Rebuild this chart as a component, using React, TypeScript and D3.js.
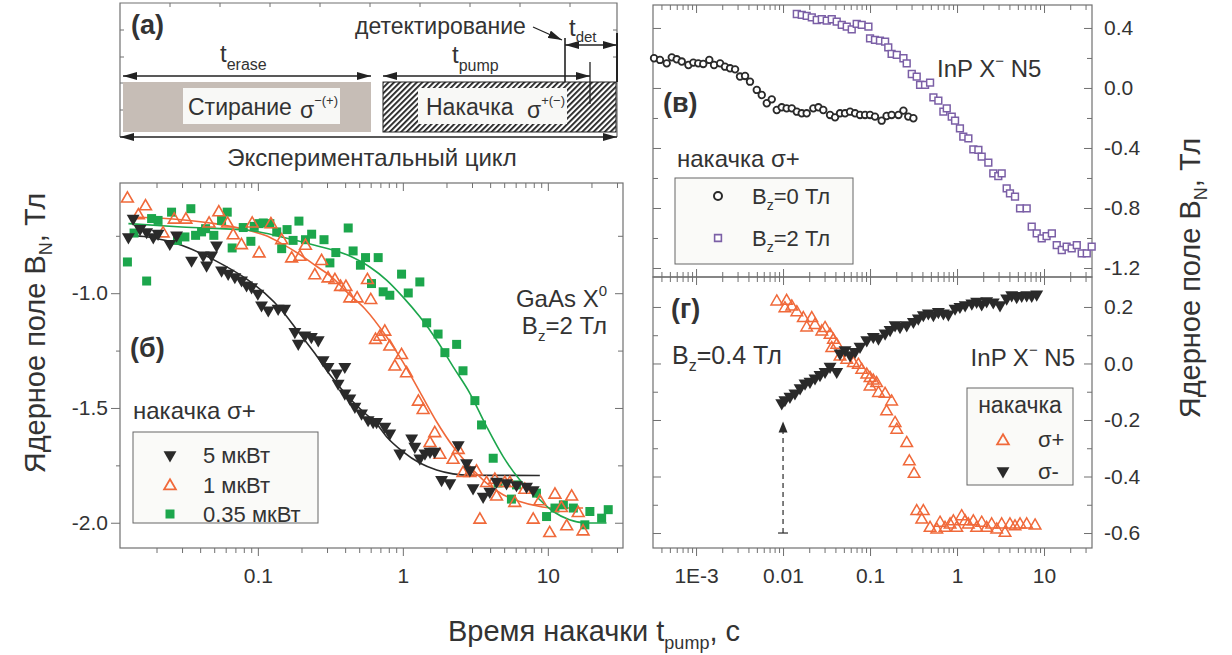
import * as d3 from "d3";
import { useRef, useEffect } from "react";

const FONT = "'Liberation Sans', Arial, sans-serif";
const INK = "#333";
const AXIS = "#707070";
const ORANGE = "#f0693a";
const GREEN = "#1ca64c";
const BLACK = "#2a2a2a";
const PURPLE = "#7b5fa6";

type Pt = [number, number];

// ---------- panel (б): GaAs X0, Bz = 2 T  [t_pump (s), B_N (T)] ----------
const gaas5uW: Pt[] = [
  [0.0128, -0.755], [0.0138, -0.675], [0.0154, -0.719], [0.0171, -0.733], [0.019, -0.755],
  [0.0205, -0.74], [0.0247, -0.784], [0.0275, -0.748], [0.0349, -0.857], [0.042, -0.835],
  [0.0443, -0.878], [0.048, -0.835], [0.0519, -0.791], [0.0562, -0.9], [0.0624, -0.914],
  [0.0694, -0.929], [0.0772, -0.943], [0.0836, -0.965], [0.0905, -0.973], [0.1, -1.001],
  [0.106, -1.052], [0.118, -1.074], [0.138, -1.067], [0.153, -1.067], [0.18, -1.168],
  [0.19, -1.219], [0.211, -1.183], [0.234, -1.19], [0.261, -1.204], [0.282, -1.291],
  [0.305, -1.32], [0.349, -1.349], [0.398, -1.32], [0.358, -1.393], [0.398, -1.436],
  [0.431, -1.458], [0.467, -1.494], [0.519, -1.523], [0.576, -1.552], [0.624, -1.56],
  [0.659, -1.56], [0.751, -1.581], [0.813, -1.61], [0.953, -1.697], [1.15, -1.632],
  [1.21, -1.668], [1.31, -1.719], [1.42, -1.697], [1.54, -1.69], [1.66, -1.69],
  [1.85, -1.813], [2.11, -1.827], [2.41, -1.661], [2.75, -1.74], [2.9, -1.77],
  [3.05, -1.849], [3.58, -1.886], [3.98, -1.864], [4.43, -1.82], [5.19, -1.827],
  [6.08, -1.835], [7.13, -1.842], [7.93, -1.857],
];
const gaas1uW: Pt[] = [
  [0.0126, -0.588], [0.0168, -0.622], [0.015, -0.661], [0.0222, -0.74], [0.0265, -0.68],
  [0.0319, -0.68], [0.0461, -0.697], [0.0538, -0.648], [0.0618, -0.697], [0.0676, -0.748],
  [0.0771, -0.791], [0.102, -0.827], [0.0914, -0.697], [0.123, -0.7], [0.146, -0.77],
  [0.171, -0.849], [0.195, -0.842], [0.213, -0.794], [0.247, -0.922], [0.275, -0.86],
  [0.305, -0.936], [0.34, -0.943], [0.372, -0.973], [0.405, -0.973], [0.431, -1.023],
  [0.484, -1.023], [0.57, -0.943], [0.601, -1.03], [0.648, -1.204], [0.694, -1.19],
  [0.751, -1.168], [0.813, -1.233], [0.881, -1.32], [0.98, -1.27], [1.06, -1.349],
  [1.28, -1.473], [1.38, -1.509], [1.66, -1.61], [1.54, -1.653], [1.8, -1.704],
  [2.22, -1.726], [2.41, -1.683], [2.6, -1.784], [2.9, -1.784], [3.22, -1.777],
  [3.4, -1.987], [3.78, -1.827], [4.31, -1.813], [4.43, -1.886], [5.05, -1.827],
  [5.47, -1.827], [5.92, -1.914], [6.94, -1.857], [7.93, -1.987], [8.81, -1.907],
  [10.3, -2.045], [11.2, -1.878], [12.4, -1.936], [13.5, -2.016], [14.6, -1.886],
  [16.2, -1.958], [17.5, -2.038],
];
const gaas035uW: Pt[] = [
  [0.0126, -0.864], [0.014, -0.738], [0.0171, -0.947], [0.0185, -0.675], [0.0205, -0.683],
  [0.0254, -0.647], [0.0279, -0.77], [0.0314, -0.755], [0.0345, -0.632], [0.0372, -0.748],
  [0.0409, -0.733], [0.0436, -0.719], [0.0497, -0.748], [0.0562, -0.683], [0.0615, -0.647],
  [0.0665, -0.803], [0.0793, -0.714], [0.0895, -0.774], [0.0944, -0.709], [0.1016, -0.697],
  [0.109, -0.694], [0.121, -0.697], [0.135, -0.733], [0.146, -0.806], [0.159, -0.723],
  [0.175, -0.77], [0.192, -0.686], [0.213, -0.767], [0.235, -0.743], [0.286, -0.767],
  [0.314, -0.868], [0.345, -0.823], [0.42, -0.716], [0.454, -0.816], [0.51, -0.878],
  [0.553, -0.845], [0.608, -0.958], [0.676, -0.845], [0.732, -0.994], [0.813, -1.009],
  [0.98, -0.917], [1.09, -0.999], [1.31, -0.951], [1.46, -1.129], [1.75, -1.178],
  [1.95, -1.259], [2.35, -1.223], [2.6, -1.338], [3.14, -1.468], [3.49, -1.574],
  [4.2, -1.719], [4.54, -1.827], [5.61, -1.897], [6.08, -1.835], [8.35, -1.871],
  [9.8, -1.973], [11.2, -1.936], [12.8, -1.922], [15.0, -1.936], [18.0, -2.009],
  [19.5, -1.951], [23.5, -1.98], [26.1, -1.943],
];
// fitted curves
const fit5uW: Pt[] = [
  [0.0124, -0.748], [0.0175, -0.755], [0.0298, -0.791], [0.0505, -0.857], [0.0857, -0.943],
  [0.112, -1.001], [0.146, -1.074], [0.19, -1.168], [0.247, -1.262], [0.322, -1.364],
  [0.42, -1.451], [0.547, -1.523], [0.651, -1.565], [0.772, -1.625], [1.0, -1.69],
  [1.31, -1.74], [1.71, -1.77], [2.22, -1.787], [2.9, -1.793], [8.81, -1.794],
];
const fit1uW: Pt[] = [
  [0.0142, -0.668], [0.0298, -0.68], [0.0505, -0.697], [0.0857, -0.726], [0.112, -0.748],
  [0.146, -0.784], [0.19, -0.827], [0.247, -0.878], [0.322, -0.929], [0.42, -1.001],
  [0.547, -1.068], [0.772, -1.19], [1.0, -1.299], [1.31, -1.43], [1.71, -1.56],
  [2.22, -1.668], [2.9, -1.755], [3.78, -1.827], [4.92, -1.878], [6.4, -1.907],
  [8.35, -1.926], [10.9, -1.936], [17.5, -1.936],
];
const fit035uW: Pt[] = [
  [0.0128, -0.697], [0.0298, -0.712], [0.0857, -0.726], [0.146, -0.755], [0.247, -0.791],
  [0.42, -0.835], [0.592, -0.886], [0.772, -0.943], [1.0, -1.016], [1.31, -1.103],
  [1.71, -1.204], [2.22, -1.32], [2.9, -1.436], [3.78, -1.581], [4.92, -1.712],
  [6.4, -1.813], [8.35, -1.886], [10.9, -1.951], [14.1, -1.987], [18.5, -2.001],
  [25.4, -2.001],
];

// ---------- panel (в): InP X- N5, sigma+ pumping ----------
const inpBz0: Pt[] = [
  [3.29e-4, 0.198], [3.85e-4, 0.187], [4.6e-4, 0.164], [5.26e-4, 0.204], [6.0e-4, 0.191],
  [6.85e-4, 0.176], [8.17e-4, 0.153], [9.3e-4, 0.169], [1.06e-3, 0.164], [1.21e-3, 0.16],
  [1.42e-3, 0.187], [1.61e-3, 0.153], [1.89e-3, 0.164], [2.15e-3, 0.142], [2.46e-3, 0.131],
  [2.81e-3, 0.124], [3.2e-3, 0.076], [3.66e-3, 0.08], [4.17e-3, 0.042], [4.99e-3, -0.013],
  [5.69e-3, -0.047], [6.5e-3, -0.102], [7.42e-3, -0.076], [8.47e-3, -0.147], [9.66e-3, -0.129],
  [0.011, -0.136], [0.0126, -0.136], [0.0144, -0.158], [0.0164, -0.169], [0.0187, -0.169],
  [0.0223, -0.136], [0.0255, -0.129], [0.029, -0.147], [0.0347, -0.18], [0.0396, -0.196],
  [0.0452, -0.169], [0.0516, -0.169], [0.0589, -0.158], [0.0673, -0.169], [0.0767, -0.18],
  [0.0877, -0.18], [0.1, -0.18], [0.114, -0.191], [0.136, -0.218], [0.155, -0.187],
  [0.177, -0.18], [0.212, -0.18], [0.242, -0.151], [0.275, -0.191], [0.315, -0.202],
];
const inpBz2: Pt[] = [
  [0.0144, 0.493], [0.0164, 0.487], [0.0187, 0.48], [0.0214, 0.471], [0.0244, 0.453],
  [0.0279, 0.458], [0.0318, 0.449], [0.0363, 0.458], [0.0414, 0.442], [0.0473, 0.42],
  [0.054, 0.409], [0.0616, 0.391], [0.0703, 0.427], [0.0803, 0.42], [0.0958, 0.409],
  [0.1, 0.331], [0.114, 0.32], [0.13, 0.316], [0.149, 0.309], [0.162, 0.271],
  [0.177, 0.227], [0.203, 0.22], [0.242, 0.198], [0.264, 0.164], [0.302, 0.093],
  [0.344, 0.076], [0.376, 0.02], [0.429, 0.02], [0.49, 0.036], [0.535, -0.062],
  [0.61, -0.084], [0.697, -0.158], [0.762, -0.136], [0.869, -0.191], [0.949, -0.218],
  [1.08, -0.269], [1.18, -0.324], [1.35, -0.336], [1.54, -0.409], [1.76, -0.413],
  [1.92, -0.458], [2.29, -0.498], [2.61, -0.569], [2.98, -0.587], [3.26, -0.569],
  [3.72, -0.669], [4.06, -0.702], [4.64, -0.724], [5.3, -0.802], [6.32, -0.802],
  [7.22, -0.924], [8.24, -0.969], [9.41, -1.002], [10.7, -0.987], [12.3, -0.969],
  [14.0, -1.047], [16.0, -1.08], [18.2, -1.058], [20.8, -1.069], [23.8, -1.047],
  [27.1, -1.102], [31.0, -1.102], [35.3, -1.058],
];

// ---------- panel (г): InP X- N5, Bz = 0.4 T ----------
const inpSigmaPlus: Pt[] = [
  [8.47e-3, 0.219], [0.011, 0.221], [0.0105, 0.195], [0.0126, 0.201], [0.0144, 0.181],
  [0.0171, 0.16], [0.0214, 0.16], [0.0187, 0.127], [0.0233, 0.136], [0.0279, 0.113],
  [0.0304, 0.125], [0.0347, 0.101], [0.0379, 0.083], [0.0414, 0.066], [0.0363, 0.054],
  [0.0452, 0.024], [0.054, 0.013], [0.0643, 0.001], [0.0734, -0.005], [0.0803, -0.023],
  [0.0917, -0.04], [0.1, -0.052], [0.109, -0.061], [0.119, -0.07], [0.1, -0.082],
  [0.125, -0.105], [0.149, -0.108], [0.177, -0.135], [0.155, -0.17], [0.194, -0.211],
  [0.203, -0.235], [0.264, -0.282], [0.283, -0.347], [0.321, -0.391], [0.344, -0.523],
  [0.41, -0.523], [0.393, -0.553], [0.49, -0.582], [0.585, -0.588], [0.638, -0.564],
  [0.728, -0.582], [0.832, -0.57], [0.908, -0.559], [0.993, -0.582], [1.13, -0.541],
  [1.24, -0.559], [1.35, -0.57], [1.54, -0.559], [1.68, -0.582], [1.92, -0.564],
  [2.19, -0.582], [2.5, -0.57], [2.86, -0.588], [3.26, -0.57], [3.56, -0.6],
  [4.06, -0.57], [4.64, -0.577], [5.3, -0.57], [6.32, -0.57], [7.89, -0.574],
];
const inpSigmaMinus: Pt[] = [
  [9.66e-3, -0.14], [0.0105, -0.129], [0.012, -0.117], [0.0137, -0.105], [0.0157, -0.087],
  [0.0179, -0.07], [0.0204, -0.064], [0.0233, -0.052], [0.0266, -0.04], [0.0304, -0.029],
  [0.0347, -0.011], [0.0414, -0.029], [0.0452, 0.036], [0.0516, 0.048], [0.0589, 0.03],
  [0.0673, 0.042], [0.0767, 0.06], [0.0917, 0.083], [0.109, 0.095], [0.125, 0.089],
  [0.149, 0.107], [0.17, 0.119], [0.194, 0.136], [0.221, 0.13], [0.264, 0.136],
  [0.315, 0.148], [0.359, 0.16], [0.41, 0.172], [0.468, 0.178], [0.535, 0.172],
  [0.61, 0.183], [0.697, 0.178], [0.795, 0.174], [0.949, 0.195], [1.08, 0.201],
  [1.24, 0.207], [1.48, 0.213], [1.68, 0.219], [1.92, 0.21], [2.19, 0.221],
  [2.61, 0.217], [3.12, 0.207], [3.72, 0.231], [4.25, 0.242], [4.85, 0.236],
  [5.54, 0.24], [6.32, 0.242], [7.22, 0.24], [8.24, 0.245],
];
// dashed arrow: start of sigma- pumping
const arrowT = 0.01;
const arrowB: [number, number] = [-0.6, -0.205];

// ---------- tick values / labels ----------
const xTicksB = [0.1, 1, 10];
const xLabelsB = ["0.1", "1", "10"];
const xTicksR = [0.001, 0.01, 0.1, 1, 10];
const xLabelsR = ["1E-3", "0.01", "0.1", "1", "10"];
const yTicksB = [-1.0, -1.5, -2.0];
const yMinorB = [-0.75, -1.25, -1.75];
const yLabelsB = ["-1.0", "-1.5", "-2.0"];
const yTicksV = [0.4, 0.0, -0.4, -0.8, -1.2];
const yMinorV = [0.2, -0.2, -0.6, -1.0];
const yLabelsV = ["0.4", "0.0", "-0.4", "-0.8", "-1.2"];
const yTicksG = [0.2, 0.0, -0.2, -0.4, -0.6];
const yMinorG = [0.1, -0.1, -0.3, -0.5];
const yLabelsG = ["0.2", "0.0", "-0.2", "-0.4", "-0.6"];

// ---------- layout ----------
const pB = { left: 120, right: 623, top: 183, bottom: 548 };
const pV = { left: 653, right: 1092, top: 5, bottom: 277 };
const pG = { left: 653, right: 1092, top: 277, bottom: 548 };

const xB = d3.scaleLog().domain([0.0112, 33]).range([pB.left, pB.right]);
const yB = d3.scaleLinear().domain([-2.11, -0.52]).range([pB.bottom, pB.top]);
const xR = d3.scaleLog().domain([3.2e-4, 35.6]).range([pV.left, pV.right]);
const yV = d3.scaleLinear().domain([-1.26, 0.553]).range([pV.bottom, pV.top]);
const yG = d3.scaleLinear().domain([-0.653, 0.306]).range([pG.bottom, pG.top]);

function logMinor(dom: number[]) {
  const out: number[] = [];
  for (let e = Math.floor(Math.log10(dom[0])); e <= Math.ceil(Math.log10(dom[1])); e++)
    for (let m = 2; m <= 9; m++) {
      const v = m * Math.pow(10, e);
      if (v >= dom[0] && v <= dom[1]) out.push(v);
    }
  return out;
}

function addAxis(root: any, axis: any, tr: string) {
  const g = root.append("g").attr("transform", tr).call(axis);
  g.select(".domain").remove();
  g.selectAll("line").attr("stroke", AXIS).attr("stroke-width", 1);
  g.selectAll("text").attr("font-family", FONT).attr("font-size", 21).attr("fill", INK);
  return g;
}

const triDown = d3.symbol(d3.symbolTriangle, 72)();
const triUp = d3.symbol(d3.symbolTriangle, 60)();
const triUpS = d3.symbol(d3.symbolTriangle, 58)();
const sq = d3.symbol(d3.symbolSquare, 81)();
const sqS = d3.symbol(d3.symbolSquare, 46)();

function fitPath(pts: Pt[], x: any, y: any) {
  return d3.line<Pt>().x((d) => x(d[0])).y((d) => y(d[1])).curve(d3.curveMonotoneX)(pts) || "";
}

export default function App() {
  const axRef = useRef<SVGGElement>(null);

  useEffect(() => {
    const root = d3.select(axRef.current);
    root.selectAll("*").remove();
    const none = () => "";

    // panel (б)
    const minB = logMinor(xB.domain());
    addAxis(root, d3.axisBottom(xB).tickValues(minB).tickSize(5).tickFormat(none), `translate(0,${pB.bottom})`);
    addAxis(root, d3.axisBottom(xB).tickValues(xTicksB).tickSize(8).tickPadding(12)
      .tickFormat((_, i) => xLabelsB[i]), `translate(0,${pB.bottom})`);
    addAxis(root, d3.axisTop(xB).tickValues(minB).tickSize(-5).tickFormat(none), `translate(0,${pB.top})`);
    addAxis(root, d3.axisTop(xB).tickValues(xTicksB).tickSize(-8).tickFormat(none), `translate(0,${pB.top})`);
    addAxis(root, d3.axisLeft(yB).tickValues(yMinorB).tickSize(4).tickFormat(none), `translate(${pB.left},0)`);
    addAxis(root, d3.axisLeft(yB).tickValues(yTicksB).tickSize(9).tickPadding(3)
      .tickFormat((_, i) => yLabelsB[i]), `translate(${pB.left},0)`);
    addAxis(root, d3.axisRight(yB).tickValues(yMinorB).tickSize(-5).tickFormat(none), `translate(${pB.right},0)`);
    addAxis(root, d3.axisRight(yB).tickValues(yTicksB).tickSize(-8).tickFormat(none), `translate(${pB.right},0)`);

    // panels (в) and (г)
    const minR = logMinor(xR.domain());
    const panels = [
      { p: pV, y: yV, maj: yTicksV, min: yMinorV, lab: yLabelsV, bottomOut: false },
      { p: pG, y: yG, maj: yTicksG, min: yMinorG, lab: yLabelsG, bottomOut: true },
    ];
    panels.forEach(({ p, y, maj, min, lab, bottomOut }) => {
      addAxis(root, d3.axisTop(xR).tickValues(minR).tickSize(-5).tickFormat(none), `translate(0,${p.top})`);
      addAxis(root, d3.axisTop(xR).tickValues(xTicksR).tickSize(-8).tickFormat(none), `translate(0,${p.top})`);
      if (bottomOut) {
        addAxis(root, d3.axisBottom(xR).tickValues(minR).tickSize(5).tickFormat(none), `translate(0,${p.bottom})`);
        addAxis(root, d3.axisBottom(xR).tickValues(xTicksR).tickSize(8).tickPadding(12)
          .tickFormat((_, i) => xLabelsR[i]), `translate(0,${p.bottom})`);
      } else {
        addAxis(root, d3.axisBottom(xR).tickValues(minR).tickSize(-5).tickFormat(none), `translate(0,${p.bottom})`);
        addAxis(root, d3.axisBottom(xR).tickValues(xTicksR).tickSize(-8).tickFormat(none), `translate(0,${p.bottom})`);
      }
      addAxis(root, d3.axisLeft(y).tickValues(min).tickSize(-5).tickFormat(none), `translate(${p.left},0)`);
      addAxis(root, d3.axisLeft(y).tickValues(maj).tickSize(-8).tickFormat(none), `translate(${p.left},0)`);
      addAxis(root, d3.axisRight(y).tickValues(min).tickSize(-5).tickFormat(none), `translate(${p.right},0)`);
      addAxis(root, d3.axisRight(y).tickValues(maj).tickSize(-8).tickPadding(12)
        .tickFormat((_, i) => lab[i]), `translate(${p.right},0)`);
    });
  }, []);

  const frame = (p: typeof pB) => (
    <rect x={p.left} y={p.top} width={p.right - p.left} height={p.bottom - p.top}
      fill="none" stroke={AXIS} strokeWidth={1.2} />
  );

  // scheme (a) frame ticks
  const aTopTicks = d3.range(170, 617, 50);
  const aSideTicks = [30, 57, 83, 110];

  return (
    <svg width={1232} height={655} style={{ position: "absolute", left: 0, top: 0, background: "#fff" }}
      fontFamily={FONT}>
      <defs>
        <pattern id="hatch" width={4} height={4} patternUnits="userSpaceOnUse" patternTransform="rotate(45)">
          <rect width={4} height={4} fill="#fff" />
          <line x1={0.9} y1={0} x2={0.9} y2={4} stroke="#1e1e1e" strokeWidth={1.8} />
        </pattern>
        <marker id="arr" viewBox="0 0 14 8" refX={14} refY={4} markerWidth={14} markerHeight={8}
          markerUnits="userSpaceOnUse" orient="auto-start-reverse">
          <path d="M0,0 L14,4 L0,8 Z" fill="#222" />
        </marker>
      </defs>

      {/* ---------- (a) scheme of the experimental cycle ---------- */}
      <g>
        <polyline points="120,137 120,3 617,3 617,137" fill="none" stroke={AXIS} strokeWidth={1.2} />
        {aTopTicks.map((t) => <line key={"t" + t} x1={t} x2={t} y1={3} y2={7} stroke={AXIS} />)}
        {aSideTicks.map((t) => <line key={"l" + t} x1={120} x2={124} y1={t} y2={t} stroke={AXIS} />)}
        {aSideTicks.map((t) => <line key={"r" + t} x1={613} x2={617} y1={t} y2={t} stroke={AXIS} />)}
        <rect x={123} y={82} width={248} height={50} fill="#c6bdb6" />
        <rect x={383} y={82} width={233} height={50} fill="url(#hatch)" stroke="#222" strokeWidth={1} />
        <rect x={183} y={88} width={157} height={36} fill="#f8f8f6" />
        <rect x={418} y={88} width={149} height={36} fill="#f8f8f6" />
        <text x={188} y={115} fontSize={23} fill={INK}>Стирание</text>
        <text x={300} y={118} fontSize={23} fill={INK}>σ<tspan dy={-13} fontSize={13}>−(+)</tspan></text>
        <text x={426} y={115} fontSize={23} fill={INK}>Накачка</text>
        <text x={527} y={118} fontSize={23} fill={INK}>σ<tspan dy={-13} fontSize={13}>+(−)</tspan></text>
        <line x1={123} x2={371} y1={76} y2={76} stroke="#222" strokeWidth={1.3} markerStart="url(#arr)" markerEnd="url(#arr)" />
        <line x1={383} x2={590} y1={76} y2={76} stroke="#222" strokeWidth={1.3} markerStart="url(#arr)" markerEnd="url(#arr)" />
        <line x1={565} x2={617} y1={45} y2={45} stroke="#222" strokeWidth={1.3} markerStart="url(#arr)" markerEnd="url(#arr)" />
        <line x1={120} x2={617} y1={137} y2={137} stroke="#222" strokeWidth={1.3} markerStart="url(#arr)" markerEnd="url(#arr)" />
        <line x1={565} x2={565} y1={38} y2={82} stroke="#222" strokeWidth={1.6} />
        <line x1={590} x2={590} y1={62} y2={104} stroke="#222" strokeWidth={1.3} />
        <line x1={617} x2={617} y1={33} y2={82} stroke="#222" strokeWidth={2} />
        <line x1={533} x2={562} y1={27} y2={40} stroke="#222" strokeWidth={1.3} markerEnd="url(#arr)" />
        <text x={131} y={34} fontSize={27} fontWeight="bold" fill={INK}>(a)</text>
        <text x={355} y={34} fontSize={23} fill={INK}>детектирование</text>
        <text x={569} y={36} fontSize={24} fill={INK}>t<tspan dy={6} fontSize={15}>det</tspan></text>
        <text x={220} y={62} fontSize={24} fill={INK}>t<tspan dy={8} fontSize={16}>erase</tspan></text>
        <text x={452} y={63} fontSize={24} fill={INK}>t<tspan dy={8} fontSize={16}>pump</tspan></text>
        <text x={372} y={166} fontSize={24} textAnchor="middle" fill={INK}>Экспериментальный цикл</text>
      </g>

      {/* ---------- frames and axes ---------- */}
      {frame(pB)}
      {frame(pV)}
      {frame(pG)}
      <g ref={axRef} />

      {/* ---------- (б) GaAs ---------- */}
      <g>
        <path d={fitPath(fit5uW, xB, yB)} fill="none" stroke={BLACK} strokeWidth={1.6} />
        <path d={fitPath(fit1uW, xB, yB)} fill="none" stroke={ORANGE} strokeWidth={1.6} />
        <path d={fitPath(fit035uW, xB, yB)} fill="none" stroke={GREEN} strokeWidth={1.6} />
        {gaas035uW.map((d, i) => (
          <path key={"g" + i} d={sq} transform={`translate(${xB(d[0])},${yB(d[1])})`} fill={GREEN} />
        ))}
        {gaas1uW.map((d, i) => (
          <path key={"o" + i} d={triUp} transform={`translate(${xB(d[0])},${yB(d[1])})`}
            fill="none" stroke={ORANGE} strokeWidth={1.6} />
        ))}
        {gaas5uW.map((d, i) => (
          <path key={"k" + i} d={triDown} transform={`translate(${xB(d[0])},${yB(d[1])}) rotate(180)`} fill={BLACK} />
        ))}
        <text x={607} y={307} fontSize={24} textAnchor="end" fill={INK}>GaAs X<tspan dy={-11} fontSize={15}>0</tspan></text>
        <text x={607} y={334} fontSize={24} textAnchor="end" fill={INK}>B<tspan dy={7} fontSize={15}>z</tspan><tspan dy={-7}>=2 Тл</tspan></text>
        <text x={130} y={357} fontSize={27} fontWeight="bold" fill={INK}>(б)</text>
        <text x={133} y={419} fontSize={24} fill={INK}>накачка σ+</text>
        <rect x={133} y={432} width={185} height={91} fill="#fafaf8" stroke="#666" strokeWidth={1} />
        <path d={triDown} transform="translate(170,455) rotate(180)" fill={BLACK} />
        <path d={triUp} transform="translate(170,486)" fill="none" stroke={ORANGE} strokeWidth={1.8} />
        <path d={sq} transform="translate(170,514)" fill={GREEN} />
        <text x={203} y={463} fontSize={22} fill={INK}>5 мкВт</text>
        <text x={203} y={493} fontSize={22} fill={INK}>1 мкВт</text>
        <text x={203} y={522} fontSize={22} fill={INK}>0.35 мкВт</text>
      </g>

      {/* ---------- (в) InP, sigma+ ---------- */}
      <g>
        {inpBz0.map((d, i) => (
          <circle key={"c" + i} cx={xR(d[0])} cy={yV(d[1])} r={3.3} fill="#fff" stroke={BLACK} strokeWidth={1.8} />
        ))}
        {inpBz2.map((d, i) => (
          <path key={"s" + i} d={sqS} transform={`translate(${xR(d[0])},${yV(d[1])})`}
            fill="#fff" stroke={PURPLE} strokeWidth={1.5} />
        ))}
        <text x={663} y={112} fontSize={27} fontWeight="bold" fill={INK}>(в)</text>
        <text x={937} y={77} fontSize={24} fill={INK}>InP X<tspan dy={-11} fontSize={15}>−</tspan><tspan dy={11}> N5</tspan></text>
        <text x={677} y={167} fontSize={24} fill={INK}>накачка σ+</text>
        <rect x={675} y={178} width={178} height={86} fill="#fafaf8" stroke="#666" strokeWidth={1} />
        <circle cx={718} cy={196} r={4} fill="#fff" stroke={BLACK} strokeWidth={2} />
        <path d={sqS} transform="translate(718,238)" fill="#fff" stroke={PURPLE} strokeWidth={1.6} />
        <text x={752} y={204} fontSize={22} fill={INK}>B<tspan dy={6} fontSize={14}>z</tspan><tspan dy={-6}>=0 Тл</tspan></text>
        <text x={752} y={246} fontSize={22} fill={INK}>B<tspan dy={6} fontSize={14}>z</tspan><tspan dy={-6}>=2 Тл</tspan></text>
      </g>

      {/* ---------- (г) InP, Bz = 0.4 T ---------- */}
      <g>
        <line x1={xR(arrowT)} x2={xR(arrowT)} y1={yG(arrowB[0])} y2={yG(arrowB[1]) + 8}
          stroke={BLACK} strokeWidth={1.2} strokeDasharray="5,4" />
        <line x1={xR(arrowT) - 5} x2={xR(arrowT) + 5} y1={yG(arrowB[0])} y2={yG(arrowB[0])} stroke={BLACK} strokeWidth={1.2} />
        <path d={`M${xR(arrowT) - 4.5},${yG(arrowB[1]) + 11} L${xR(arrowT)},${yG(arrowB[1])} L${xR(arrowT) + 4.5},${yG(arrowB[1]) + 11} Z`} fill={BLACK} />
        {inpSigmaPlus.map((d, i) => (
          <path key={"p" + i} d={triUpS} transform={`translate(${xR(d[0])},${yG(d[1])})`}
            fill="none" stroke={ORANGE} strokeWidth={1.5} />
        ))}
        {inpSigmaMinus.map((d, i) => (
          <path key={"m" + i} d={triDown} transform={`translate(${xR(d[0])},${yG(d[1])}) rotate(180)`} fill={BLACK} />
        ))}
        <text x={671} y={318} fontSize={27} fontWeight="bold" fill={INK}>(г)</text>
        <text x={672} y={364} fontSize={25} fill={INK}>B<tspan dy={7} fontSize={16}>z</tspan><tspan dy={-7}>=0.4 Тл</tspan></text>
        <text x={1075} y={366} fontSize={24} textAnchor="end" fill={INK}>InP X<tspan dy={-11} fontSize={15}>−</tspan><tspan dy={11}> N5</tspan></text>
        <rect x={967} y={388} width={106} height={97} fill="#fafaf8" stroke="#666" strokeWidth={1} />
        <text x={1020} y={413} fontSize={23} textAnchor="middle" fill={INK}>накачка</text>
        <path d={triUp} transform="translate(1003,441)" fill="none" stroke={ORANGE} strokeWidth={1.8} />
        <path d={triDown} transform="translate(1003,471) rotate(180)" fill={BLACK} />
        <text x={1038} y={447} fontSize={22} fill={INK}>σ+</text>
        <text x={1038} y={479} fontSize={22} fill={INK}>σ-</text>
      </g>

      {/* ---------- axis titles ---------- */}
      <text transform="translate(45,333) rotate(-90)" fontSize={29} textAnchor="middle" fill={INK}>
        Ядерное поле B<tspan dy={7} fontSize={18}>N</tspan><tspan dy={-7}>, Тл</tspan>
      </text>
      <text transform="translate(1200,278) rotate(-90)" fontSize={29} textAnchor="middle" fill={INK}>
        Ядерное поле B<tspan dy={7} fontSize={18}>N</tspan><tspan dy={-7}>, Тл</tspan>
      </text>
      <text x={594} y={641} fontSize={29} textAnchor="middle" fill={INK}>
        Время накачки t<tspan dy={8} fontSize={18}>pump</tspan><tspan dy={-8}>, с</tspan>
      </text>
    </svg>
  );
}
